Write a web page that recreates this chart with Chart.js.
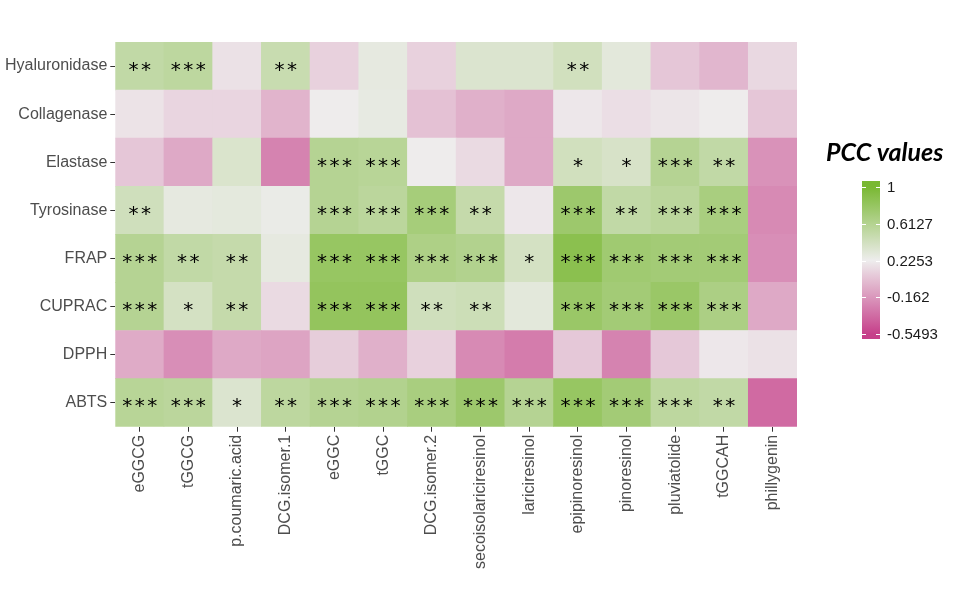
<!DOCTYPE html>
<html>
<head>
<meta charset="utf-8">
<title>PCC heatmap</title>
<script src="https://cdn.jsdelivr.net/npm/chart.js@4.4.1/dist/chart.umd.min.js"></script>
<style>
  body { margin: 0; background: #ffffff; }
  #wrap { width: 973px; height: 604px; }
</style>
</head>
<body>
<div id="wrap"><canvas id="heat" width="973" height="604"></canvas></div>
<script>
// columns (compounds)
var compounds = ["eGGCG", "tGGCG", "p.coumaric.acid", "DCG.isomer.1", "eGGC", "tGGC", "DCG.isomer.2",
  "secoisolariciresinol", "lariciresinol", "epipinoresinol", "pinoresinol", "pluviatolide", "tGGCAH", "phillygenin"];

// rows (assays), top to bottom
var assays = ["Hyaluronidase", "Collagenase", "Elastase", "Tyrosinase", "FRAP", "CUPRAC", "DPPH", "ABTS"];

// PCC values per assay
var hyaluronidase = [0.52, 0.55, 0.17, 0.48, 0.10, 0.28, 0.10, 0.35, 0.35, 0.42, 0.30, 0.05, -0.02, 0.13];
var collagenase   = [0.18, 0.12, 0.12, -0.03, 0.22, 0.27, 0.03, -0.05, -0.08, 0.20, 0.16, 0.19, 0.22, 0.05];
var elastase      = [0.05, -0.08, 0.36, -0.25, 0.60, 0.58, 0.22, 0.14, -0.08, 0.42, 0.38, 0.60, 0.52, -0.18];
var tyrosinase    = [0.43, 0.28, 0.29, 0.25, 0.60, 0.56, 0.70, 0.50, 0.20, 0.76, 0.52, 0.56, 0.68, -0.22];
var frap          = [0.60, 0.52, 0.50, 0.28, 0.80, 0.80, 0.65, 0.62, 0.40, 0.88, 0.74, 0.72, 0.72, -0.20];
var cuprac        = [0.60, 0.40, 0.50, 0.14, 0.82, 0.82, 0.43, 0.45, 0.30, 0.78, 0.72, 0.78, 0.66, -0.08];
var dpph          = [-0.07, -0.20, -0.08, -0.10, 0.08, -0.05, 0.10, -0.22, -0.28, 0.06, -0.25, 0.06, 0.20, 0.17];
var abts          = [0.58, 0.56, 0.35, 0.55, 0.60, 0.62, 0.68, 0.76, 0.60, 0.80, 0.72, 0.55, 0.52, -0.36];

// significance stars per assay
var hyaluronidaseSig = ["**", "***", "", "**", "", "", "", "", "", "**", "", "", "", ""];
var collagenaseSig   = ["", "", "", "", "", "", "", "", "", "", "", "", "", ""];
var elastaseSig      = ["", "", "", "", "***", "***", "", "", "", "*", "*", "***", "**", ""];
var tyrosinaseSig    = ["**", "", "", "", "***", "***", "***", "**", "", "***", "**", "***", "***", ""];
var frapSig          = ["***", "**", "**", "", "***", "***", "***", "***", "*", "***", "***", "***", "***", ""];
var cupracSig        = ["***", "*", "**", "", "***", "***", "**", "**", "", "***", "***", "***", "***", ""];
var dpphSig          = ["", "", "", "", "", "", "", "", "", "", "", "", "", ""];
var abtsSig          = ["***", "***", "*", "**", "***", "***", "***", "***", "***", "***", "***", "***", "**", ""];

// colour bar ticks
var legendTicks = [1, 0.6127, 0.2253, -0.162, -0.5493];
var legendLabels = ["1", "0.6127", "0.2253", "-0.162", "-0.5493"];

var values = [hyaluronidase, collagenase, elastase, tyrosinase, frap, cuprac, dpph, abts];
var stars = [hyaluronidaseSig, collagenaseSig, elastaseSig, tyrosinaseSig, frapSig, cupracSig, dpphSig, abtsSig];

// diverging scale low - mid - high
var lowCol = [198, 64, 138], midCol = [238, 237, 237], highCol = [121, 184, 50];
var vMin = -0.5493, vMax = 1, vMid = (vMin + vMax) / 2;

function pccColor(v) {
  var t, end;
  if (v >= vMid) { t = (v - vMid) / (vMax - vMid); end = highCol; }
  else { t = (vMid - v) / (vMid - vMin); end = lowCol; }
  t = Math.max(0, Math.min(1, t));
  var c = midCol.map(function (m, k) { return Math.round(m + (end[k] - m) * t); });
  return "rgb(" + c[0] + "," + c[1] + "," + c[2] + ")";
}

// one stacked dataset per assay row, bottom row first
var datasets = [];
for (var r = assays.length - 1; r >= 0; r--) {
  datasets.push({
    label: assays[r],
    data: compounds.map(function () { return 1; }),
    backgroundColor: values[r].map(pccColor),
    borderWidth: 0,
    barPercentage: 1,
    categoryPercentage: 1,
    rowIndex: r
  });
}

// draw stars in the middle of each cell
var starPlugin = {
  id: "stars",
  afterDatasetsDraw: function (chart) {
    var ctx = chart.ctx;
    ctx.save();
    ctx.fillStyle = "#000000";
    ctx.font = "20px 'DejaVu Sans'";
    ctx.textAlign = "center";
    ctx.textBaseline = "alphabetic";
    chart.data.datasets.forEach(function (ds, i) {
      var meta = chart.getDatasetMeta(i);
      meta.data.forEach(function (bar, j) {
        var s = stars[ds.rowIndex][j];
        if (!s) return;
        var cy = (bar.y + bar.base) / 2;
        var pitch = 12.5;
        var x0 = bar.x - (s.length - 1) * pitch / 2;
        for (var k = 0; k < s.length; k++) {
          ctx.fillText("*", x0 + k * pitch, cy + 9.5);
        }
      });
    });
    ctx.restore();
  }
};

// colour bar legend
var legendPlugin = {
  id: "colourbar",
  afterDraw: function (chart) {
    var ctx = chart.ctx;
    var bx = 862, bw = 18, barTop = 181, barBottom = 339;
    var yTop = 187, yBottom = 334;
    function yOf(v) { return yTop + (vMax - v) / (vMax - vMin) * (yBottom - yTop); }
    ctx.save();
    var grad = ctx.createLinearGradient(0, yOf(vMax), 0, yOf(vMin));
    for (var s = 0; s <= 20; s++) {
      var v = vMax - s / 20 * (vMax - vMin);
      grad.addColorStop(s / 20, pccColor(v));
    }
    ctx.fillStyle = grad;
    ctx.fillRect(bx, barTop, bw, barBottom - barTop);
    ctx.strokeStyle = "#ffffff";
    ctx.lineWidth = 1;
    ctx.font = "15px 'Liberation Sans'";
    ctx.textAlign = "left";
    ctx.textBaseline = "middle";
    legendTicks.forEach(function (v, i) {
      var y = Math.round(yOf(v)) + 0.5;
      ctx.beginPath();
      ctx.moveTo(bx, y); ctx.lineTo(bx + 4, y);
      ctx.moveTo(bx + bw - 4, y); ctx.lineTo(bx + bw, y);
      ctx.stroke();
      ctx.fillStyle = "#1a1a1a";
      ctx.fillText(legendLabels[i], bx + bw + 7, y);
    });
    ctx.fillStyle = "#000000";
    ctx.font = "italic bold 25px Lato";
    ctx.fillText("PCC values", 826, 153);
    ctx.restore();
  }
};

Chart.defaults.font.family = "'Liberation Sans', Arial, sans-serif";
Chart.defaults.font.size = 16;
Chart.defaults.color = "#4d4d4d";

new Chart(document.getElementById("heat"), {
  type: "bar",
  data: { labels: compounds, datasets: datasets },
  options: {
    responsive: false,
    animation: false,
    layout: { padding: { left: 2, right: 176, top: 42, bottom: 32 } },
    plugins: { legend: { display: false }, tooltip: { enabled: false } },
    scales: {
      x: {
        stacked: true,
        offset: true,
        border: { display: false },
        grid: { drawOnChartArea: false, offset: false, color: "#333333", tickLength: 5 },
        ticks: { minRotation: 90, maxRotation: 90, padding: 3, autoSkip: false }
      },
      y: {
        stacked: true,
        min: 0,
        max: assays.length,
        border: { display: false },
        grid: { drawOnChartArea: false, color: "#333333", tickLength: 5 },
        afterBuildTicks: function (axis) {
          axis.ticks = assays.map(function (a, i) { return { value: i + 0.5 }; });
        },
        ticks: {
          padding: 3,
          autoSkip: false,
          callback: function (value) {
            return assays[assays.length - 1 - Math.floor(value)];
          }
        }
      }
    }
  },
  plugins: [starPlugin, legendPlugin]
});
</script>
</body>
</html>
